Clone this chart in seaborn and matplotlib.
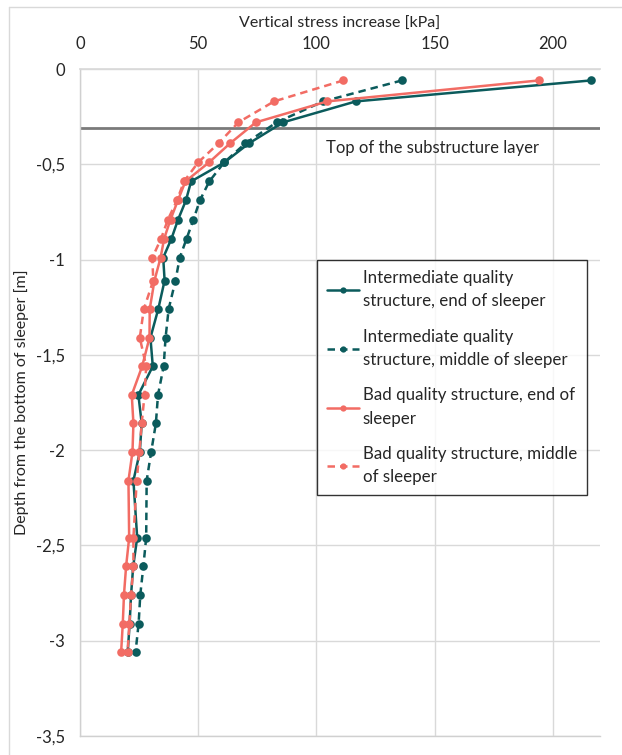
import numpy as np
import pandas as pd
import seaborn as sns
import matplotlib.pyplot as plt
from matplotlib.ticker import FuncFormatter
from matplotlib.lines import Line2D

# ---- data ----
depth = [-0.06, -0.17, -0.28, -0.39, -0.49, -0.59, -0.69, -0.79, -0.89, -0.99,
         -1.11, -1.26, -1.41, -1.56, -1.71, -1.86, -2.01, -2.16, -2.46, -2.61,
         -2.76, -2.91, -3.06]
inter_end = [216.2, 116.7, 85.9, 71.5, 61.1, 47.0, 44.8, 41.5, 38.7, 35.2,
             35.8, 33.1, 29.8, 30.8, 24.7, 26.1, 25.3, 22.6, 24.2, 22.5,
             21.6, 21.0, 20.2]
inter_mid = [136.2, 102.9, 83.2, 70.0, 61.0, 54.7, 50.7, 48.0, 45.1, 42.2,
             40.4, 37.5, 36.2, 35.4, 33.0, 32.1, 30.1, 28.2, 28.0, 26.8,
             25.5, 24.8, 23.5]
bad_end = [194.2, 104.6, 74.4, 63.5, 54.6, 44.6, 41.4, 38.3, 35.6, 34.1,
           31.5, 29.5, 29.4, 26.3, 21.9, 22.6, 22.2, 20.5, 20.8, 19.5,
           18.6, 18.1, 17.4]
bad_mid = [111.4, 82.1, 67.0, 58.6, 50.0, 44.0, 41.0, 37.2, 34.3, 30.6,
           31.0, 27.0, 25.3, 28.0, 27.3, 26.1, 25.1, 24.0, 22.6, 22.6,
           21.6, 20.9, 20.1]
series_labels = ["Intermediate quality\nstructure, end of sleeper",
                 "Intermediate quality\nstructure, middle of sleeper",
                 "Bad quality structure, end of\nsleeper",
                 "Bad quality structure, middle\nof sleeper"]
substructure_top = -0.31
x_ticks = [0, 50, 100, 150, 200]
y_ticks = [0, -0.5, -1, -1.5, -2, -2.5, -3, -3.5]

teal = "#0b5b5c"
salmon = "#f26c64"
colors = [teal, teal, salmon, salmon]
dash_styles = ["", (3.0, 2.0), "", (3.0, 2.0)]
text_color = "#262626"

frames = []
for lab, vals in zip(series_labels, [inter_end, inter_mid, bad_end, bad_mid]):
    frames.append(pd.DataFrame({"series": lab, "stress": vals, "depth": depth}))
df = pd.concat(frames, ignore_index=True)

sns.set_theme(style="white")
plt.rcParams['font.family'] = ['Lato', 'DejaVu Sans']

fig = plt.figure(figsize=(6.22, 7.55), dpi=100)
ax = fig.add_axes([80 / 622, 1 - 736 / 755, 520 / 622, 667 / 755])

sns.lineplot(data=df, x="stress", y="depth", hue="series", style="series",
             palette=dict(zip(series_labels, colors)),
             dashes=dict(zip(series_labels, dash_styles)),
             markers=dict(zip(series_labels, ["o"] * 4)),
             sort=False, estimator=None, linewidth=1.8, markersize=6.2,
             markeredgewidth=0, legend=False, ax=ax)

ax.axhline(substructure_top, color="#7a7a7a", lw=2.0, zorder=1)
ax.text(104, -0.415, "Top of the substructure layer", fontsize=12,
        color=text_color, va="center", ha="left")

ax.set_xlim(0, 220)
ax.set_ylim(-3.5, 0)
ax.set_xticks(x_ticks)
ax.set_yticks(y_ticks)


def comma_fmt(v, pos):
    s = f"{v:g}"
    if s in ("-0", "0"):
        return "0"
    return s.replace(".", ",")


ax.yaxis.set_major_formatter(FuncFormatter(comma_fmt))
ax.xaxis.set_major_formatter(FuncFormatter(comma_fmt))
ax.xaxis.tick_top()
ax.xaxis.set_label_position("top")
ax.grid(True, color="#d9d9d9", lw=1.0)
ax.set_axisbelow(True)
for side in ["left", "bottom"]:
    ax.spines[side].set_color("#d0d0d0")
    ax.spines[side].set_linewidth(1.0)
ax.spines["top"].set_color("#d9d9d9")
ax.spines["right"].set_visible(False)
ax.tick_params(axis="both", length=0, labelsize=12, colors=text_color)
ax.tick_params(axis="x", pad=12)
ax.tick_params(axis="y", pad=11)
ax.set_xlabel("Vertical stress increase [kPa]", fontsize=11.5, color=text_color,
              labelpad=6)
ax.set_ylabel("Depth from the bottom of sleeper [m]", fontsize=11.5,
              color=text_color, labelpad=5)

handles = [Line2D([0], [0], color=c, lw=1.8, marker="o", markersize=4.5,
                  markeredgewidth=0,
                  linestyle="-" if d == "" else (0, d))
           for c, d in zip(colors, dash_styles)]
leg = ax.legend(handles, series_labels, loc="upper left",
                bbox_to_anchor=(0.4558, 0.7136), frameon=True, fancybox=False,
                edgecolor="black", fontsize=12.2, handlelength=1.9,
                handletextpad=0.2, labelspacing=1.15, borderpad=0.6,
                borderaxespad=0)
leg.get_frame().set_linewidth(1.0)
for t in leg.get_texts():
    t.set_color(text_color)
    t.set_linespacing(1.55)

# outer chart-area border (top and left visible)
fig.add_artist(Line2D([9 / 622, 1.0], [1 - 7 / 755, 1 - 7 / 755],
                      transform=fig.transFigure, color="#d9d9d9", lw=1))
fig.add_artist(Line2D([9 / 622, 9 / 622], [0, 1 - 7 / 755],
                      transform=fig.transFigure, color="#d9d9d9", lw=1))

fig.savefig("out.png", dpi=100)
